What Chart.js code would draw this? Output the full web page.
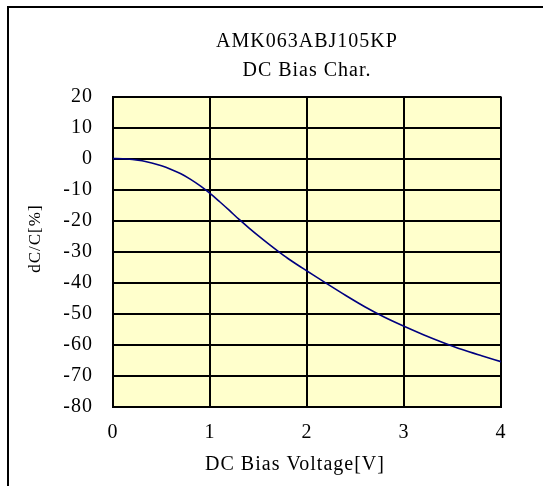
<!DOCTYPE html>
<html>
<head>
<meta charset="utf-8">
<script src="https://cdn.jsdelivr.net/npm/chart.js@4/dist/chart.umd.min.js"></script>
<style>
  html, body { margin: 0; padding: 0; background: #fff; }
  #wrap { width: 543px; height: 486px; }
</style>
</head>
<body>
<div id="wrap"><canvas id="myChart" width="543" height="486"></canvas></div>
<script>
// values
var voltage = [0, 0.1, 0.2, 0.3, 0.4, 0.5, 0.6, 0.7, 0.8, 0.9, 1.0, 1.1, 1.2, 1.3, 1.4, 1.5, 1.6, 1.7, 1.8, 1.9, 2.0,
               2.2, 2.4, 2.6, 2.8, 3.0, 3.2, 3.4, 3.6, 3.8, 4.0];
var dcdc = [0, -0.05, -0.3, -0.7, -1.4, -2.3, -3.5, -4.9, -6.7, -8.8, -11.2, -13.9, -16.7, -19.6, -22.3, -24.9, -27.4, -29.8, -32.1, -34.2, -36.2,
            -40.2, -44.1, -47.8, -51.1, -54.0, -56.7, -59.2, -61.5, -63.5, -65.4];
var titleLines = ['AMK063ABJ105KP', 'DC Bias Char.'];
var xTitle = 'DC Bias Voltage[V]    ';
var yTitle = '     dC/C[%]';

var serif = 'Liberation Serif';
var pts = voltage.map(function (v, i) { return { x: v, y: dcdc[i] }; });

// yellow plot background + outer frame, and the slightly spaced lettering
var framePlugin = {
    id: 'frame',
    beforeLayout: function (chart) { chart.ctx.letterSpacing = '1px'; },
    beforeDraw: function (chart) {
        var c = chart.ctx, a = chart.chartArea;
        c.letterSpacing = '1px';
        c.save();
        c.fillStyle = '#ffffcc';
        c.fillRect(a.left, a.top, a.right - a.left, a.bottom - a.top);
        c.strokeStyle = '#000';
        c.lineWidth = 2;
        c.strokeRect(8, 7, 560, 500);
        c.restore();
    }
};

const chart = new Chart(document.getElementById('myChart'), {
    type: 'line',
    data: {
        datasets: [{
            data: pts,
            borderColor: '#000080',
            borderWidth: 1.6,
            pointRadius: 0,
            cubicInterpolationMode: 'monotone',
            fill: false
        }]
    },
    options: {
        responsive: false,
        animation: false,
        layout: { padding: { left: 0, right: 42, top: 0, bottom: 0 } },
        plugins: {
            legend: { display: false },
            tooltip: { enabled: false },
            title: {
                display: true,
                fullSize: false,
                text: titleLines,
                color: '#000',
                font: { family: serif, size: 20, weight: 'normal', lineHeight: 1.45 },
                padding: { top: 27.5, bottom: 11 }
            }
        },
        scales: {
            x: {
                type: 'linear',
                min: 0, max: 4,
                afterFit: function (s) { s.height = 79; },
                ticks: { stepSize: 1, color: '#000', padding: 14, font: { family: serif, size: 20 } },
                grid: { color: '#000', lineWidth: 2, drawTicks: false },
                border: { color: '#000', width: 2 },
                title: { display: true, text: xTitle, color: '#000', padding: { top: 4, bottom: 9 }, font: { family: serif, size: 20 } }
            },
            y: {
                min: -80, max: 20,
                afterFit: function (s) { s.width = 113; },
                ticks: { stepSize: 10, color: '#000', padding: 20, font: { family: serif, size: 20 } },
                grid: { color: '#000', lineWidth: 2, drawTicks: false },
                border: { color: '#000', width: 2 },
                title: { display: true, text: yTitle, color: '#000', padding: { top: 25, bottom: 4 }, font: { family: serif, size: 17 } }
            }
        }
    },
    plugins: [framePlugin]
});
</script>
</body>
</html>
